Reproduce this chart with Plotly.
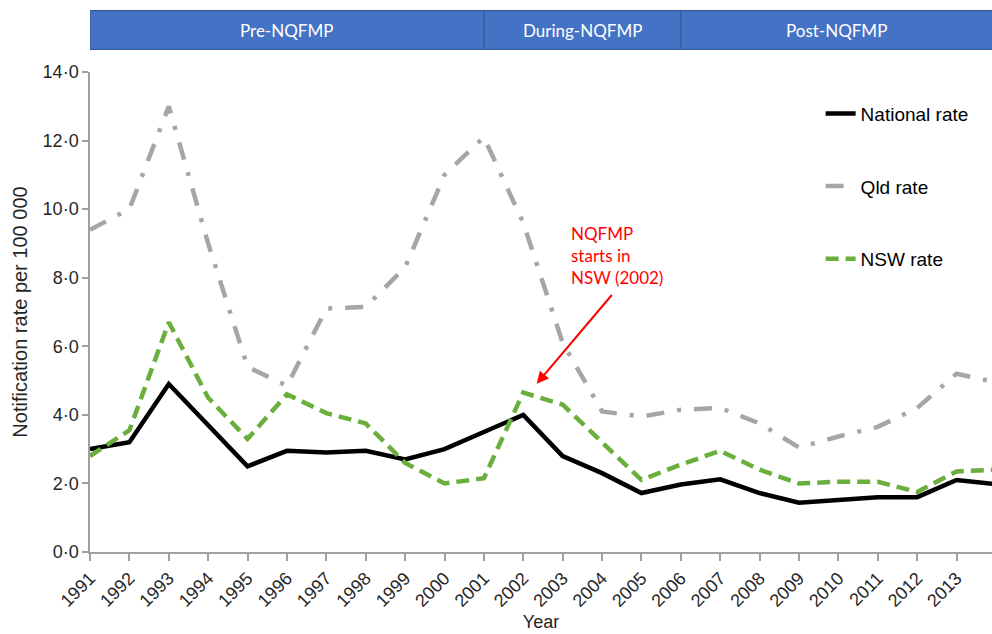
import plotly.graph_objects as go

years = list(range(1991, 2015))
national = [3.0, 3.2, 4.9, 3.7, 2.5, 2.95, 2.9, 2.95, 2.7, 3.0, 3.5, 4.0, 2.8, 2.3, 1.72,
            1.97, 2.12, 1.72, 1.44, 1.52, 1.6, 1.6, 2.1, 1.98]
qld = [9.4, 10.0, 13.0, 9.0, 5.4, 4.85, 7.1, 7.15, 8.3, 11.0, 12.1, 9.6, 6.1, 4.1, 3.95,
       4.15, 4.2, 3.75, 3.05, 3.37, 3.65, 4.2, 5.2, 4.95]
nsw = [2.8, 3.55, 6.7, 4.5, 3.3, 4.6, 4.05, 3.75, 2.6, 2.0, 2.15, 4.65, 4.3, 3.2, 2.1,
       2.55, 2.95, 2.4, 2.0, 2.05, 2.05, 1.75, 2.35, 2.4]

y_ticks = [0, 2, 4, 6, 8, 10, 12, 14]
y_ticktext = ["0·0", "2·0", "4·0", "6·0", "8·0", "10·0", "12·0", "14·0"]

phases = ["Pre-NQFMP", "During-NQFMP", "Post-NQFMP"]
phase_start = [1991, 2001, 2006]
phase_end = [2001, 2006, 2014]

annot_text = "NQFMP<br>starts in<br>NSW (2002)"
arrow_head = (2002.34, 4.91)
arrow_tail = (2004.28, 7.54)

X_MAX = 2013.9
AX_FONT = "Liberation Sans, Arial, sans-serif"

fig = go.Figure()
fig.add_trace(go.Scatter(x=years, y=national, mode="lines", name="National rate",
                         legendgroup="a",
                         line=dict(color="#000000", width=4.5)))
fig.add_trace(go.Scatter(x=years, y=qld, mode="lines", name="Qld rate",
                         legendgroup="b",
                         line=dict(color="#A6A6A6", width=4.5, dash="18px,13px,4px,13px")))
fig.add_trace(go.Scatter(x=years, y=nsw, mode="lines", name="NSW rate",
                         legendgroup="c",
                         line=dict(color="#6AAE3E", width=4.5, dash="13px,7px")))

shapes = []
annotations = []
for name, s, e in zip(phases, phase_start, phase_end):
    shapes.append(dict(type="rect", xref="x", yref="paper", x0=s, x1=e, y0=1.047, y1=1.128,
                       fillcolor="#4472C4", line=dict(color="#2F5597", width=1), layer="below"))
    annotations.append(dict(x=(s + min(e, X_MAX)) / 2, y=1.0875, xref="x", yref="paper",
                            xanchor="center", yanchor="middle",
                            text=name, showarrow=False,
                            font=dict(family="Lato, sans-serif", size=17, color="white")))

annotations.append(dict(x=2003.15, y=8.65, xref="x", yref="y", text=annot_text,
                        showarrow=False, xanchor="left", align="left",
                        font=dict(family="Lato, sans-serif", size=17, color="#FF0000")))
annotations.append(dict(x=arrow_head[0], y=arrow_head[1], ax=arrow_tail[0], ay=arrow_tail[1],
                        xref="x", yref="y", axref="x", ayref="y", text="",
                        showarrow=True, arrowhead=2, arrowsize=1.2, arrowwidth=2,
                        arrowcolor="#FF0000", standoff=0))

fig.update_layout(
    width=992, height=634,
    margin=dict(l=90, r=0, t=72, b=82),
    plot_bgcolor="white", paper_bgcolor="white",
    font=dict(family=AX_FONT, color="#262626"),
    shapes=shapes,
    annotations=annotations,
    legend=dict(x=0.81, y=0.953, xanchor="left", yanchor="top",
                font=dict(family=AX_FONT, size=19, color="#000000"),
                tracegroupgap=45, traceorder="grouped", bgcolor="rgba(0,0,0,0)"),
    xaxis=dict(range=[1991, X_MAX], tickvals=years, ticktext=[str(y) for y in years],
               tickangle=-45, tickfont=dict(size=18, color="#262626"),
               showgrid=False, zeroline=False, showline=True, linecolor="#A0A0A0", linewidth=1.5,
               ticks="outside", ticklen=7, tickcolor="#A0A0A0", tickwidth=1.5,
               title=dict(text="Year", font=dict(size=18, color="#262626"), standoff=6)),
    yaxis=dict(range=[0, 14], tickvals=y_ticks, ticktext=y_ticktext,
               tickfont=dict(size=18, color="#262626"),
               showgrid=False, zeroline=False, showline=True, linecolor="#A0A0A0", linewidth=1.5,
               ticks="outside", ticklen=6, tickcolor="#A0A0A0", tickwidth=1.5,
               title=dict(text="Notification rate per 100 000", font=dict(size=20, color="#262626"),
                          standoff=10)),
)

fig.write_html("out.html", config={"displayModeBar": False},
               post_script="document.body.style.margin='0px';")
